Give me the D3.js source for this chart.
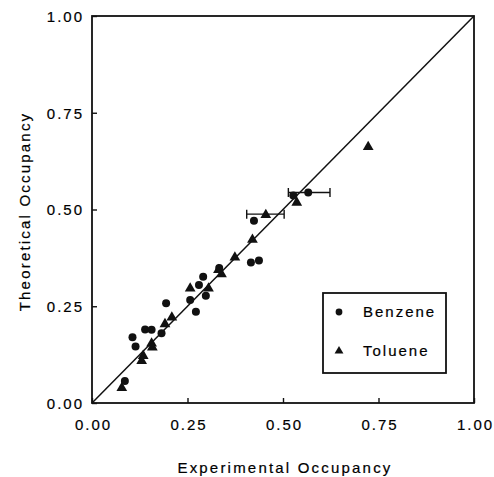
<!DOCTYPE html>
<html>
<head>
<meta charset="utf-8" />
<style>
  html, body {
    margin: 0;
    padding: 0;
    background: #fff;
  }
  svg text {
    font-family: "Liberation Sans", Arial, sans-serif;
    fill: #000;
    stroke: #000;
    stroke-width: 0.2px;
  }
  .tick-label {
    font-size: 15px;
    letter-spacing: 2px;
  }
  .axis-title {
    font-size: 15px;
    letter-spacing: 2.2px;
  }
  .frame {
    fill: none;
    stroke: #111;
    stroke-width: 1.8px;
  }
  .diag {
    stroke: #111;
    stroke-width: 1.5px;
  }
  .errbar {
    stroke: #111;
    stroke-width: 1.4px;
  }
</style>
</head>
<body>
<div id="vis"></div>
<script src="https://d3js.org/d3.v7.min.js"></script>
<script>
  // data
  var benzeneX = [0.086, 0.106, 0.114, 0.139, 0.156, 0.182, 0.194, 0.257, 0.272, 0.280, 0.291, 0.298, 0.333, 0.416, 0.437, 0.424, 0.527, 0.566];
  var benzeneY = [0.057, 0.170, 0.146, 0.190, 0.189, 0.180, 0.258, 0.266, 0.236, 0.305, 0.326, 0.277, 0.349, 0.363, 0.368, 0.471, 0.536, 0.544];

  var tolueneX = [0.078, 0.130, 0.134, 0.156, 0.158, 0.191, 0.209, 0.257, 0.305, 0.331, 0.339, 0.374, 0.420, 0.455, 0.536, 0.723];
  var tolueneY = [0.041, 0.111, 0.124, 0.156, 0.146, 0.206, 0.223, 0.298, 0.298, 0.346, 0.335, 0.378, 0.424, 0.488, 0.520, 0.664];

  // horizontal error bars: [x, y, xLow, xHigh]
  var errorBars = [
    [0.566, 0.544, 0.514, 0.623],
    [0.455, 0.488, 0.405, 0.503]
  ];

  var ticks = [0, 0.25, 0.5, 0.75, 1];
  var seriesNames = ["Benzene", "Toluene"];

  (function() {
    var W = 494, H = 477;
    var mLeft = 92, mRight = 474, mTop = 16, mBottom = 403;

    var svg = d3.select("#vis").append("svg")
      .attr("width", W).attr("height", H);

    var x = d3.scaleLinear().domain([0, 1]).range([mLeft, mRight]);
    var y = d3.scaleLinear().domain([0, 1]).range([mBottom, mTop]);

    // frame
    svg.append("rect").attr("class", "frame")
      .attr("x", mLeft).attr("y", mTop)
      .attr("width", mRight - mLeft).attr("height", mBottom - mTop);

    // axes with inward ticks
    var fmt = d3.format(".2f");
    var xAxis = svg.append("g")
      .attr("transform", "translate(0," + mBottom + ")")
      .call(d3.axisBottom(x).tickValues(ticks).tickSizeInner(-5).tickSizeOuter(0).tickFormat(fmt));
    var yAxis = svg.append("g")
      .attr("transform", "translate(" + mLeft + ",0)")
      .call(d3.axisLeft(y).tickValues(ticks).tickSizeInner(-5).tickSizeOuter(0).tickFormat(fmt));

    [xAxis, yAxis].forEach(function(g) {
      g.select(".domain").remove();
      g.selectAll(".tick line").attr("stroke", "#111").attr("stroke-width", 1.4);
      g.selectAll(".tick text")
        .attr("class", "tick-label")
        .attr("fill", null);
      g.attr("font-family", null).attr("font-size", null);
    });
    xAxis.selectAll(".tick text").attr("y", 16).attr("dy", "0.71em").attr("dx", 1);
    yAxis.selectAll(".tick text").attr("x", -8).attr("dy", "0.35em");

    // y = x line
    svg.append("line").attr("class", "diag")
      .attr("x1", x(0)).attr("y1", y(0))
      .attr("x2", x(1)).attr("y2", y(1));

    // error bars
    var eb = svg.append("g").selectAll("g").data(errorBars).enter().append("g");
    eb.append("line").attr("class", "errbar")
      .attr("x1", function(d) { return x(d[2]); }).attr("x2", function(d) { return x(d[3]); })
      .attr("y1", function(d) { return y(d[1]); }).attr("y2", function(d) { return y(d[1]); });
    eb.append("line").attr("class", "errbar")
      .attr("x1", function(d) { return x(d[2]); }).attr("x2", function(d) { return x(d[2]); })
      .attr("y1", function(d) { return y(d[1]) - 4.5; }).attr("y2", function(d) { return y(d[1]) + 4.5; });
    eb.append("line").attr("class", "errbar")
      .attr("x1", function(d) { return x(d[3]); }).attr("x2", function(d) { return x(d[3]); })
      .attr("y1", function(d) { return y(d[1]) - 4.5; }).attr("y2", function(d) { return y(d[1]) + 4.5; });

    // points
    var tri = d3.symbol().type(d3.symbolTriangle).size(50);

    svg.append("g").selectAll("path")
      .data(d3.zip(tolueneX, tolueneY)).enter().append("path")
      .attr("d", tri)
      .attr("fill", "#111")
      .attr("transform", function(d) { return "translate(" + x(d[0]) + "," + (y(d[1]) + 0.8) + ")"; });

    svg.append("g").selectAll("circle")
      .data(d3.zip(benzeneX, benzeneY)).enter().append("circle")
      .attr("cx", function(d) { return x(d[0]); })
      .attr("cy", function(d) { return y(d[1]); })
      .attr("r", 4)
      .attr("fill", "#111");

    // legend
    var lg = svg.append("g");
    lg.append("rect").attr("class", "frame")
      .attr("x", 323).attr("y", 293).attr("width", 123).attr("height", 80)
      .attr("stroke-width", 1.5);
    var items = lg.selectAll("g.item").data(seriesNames).enter().append("g")
      .attr("transform", function(d, i) { return "translate(339," + (312 + i * 39) + ")"; });
    items.each(function(d, i) {
      var g = d3.select(this);
      if (i === 0) g.append("circle").attr("r", 3.4).attr("fill", "#111");
      else g.append("path").attr("d", d3.symbol().type(d3.symbolTriangle).size(34)).attr("fill", "#111");
      g.append("text").attr("class", "tick-label")
        .attr("x", 24).attr("dy", "0.35em").text(d);
    });

    // axis titles
    svg.append("text").attr("class", "axis-title")
      .attr("x", (mLeft + mRight) / 2 + 2).attr("y", 473)
      .attr("text-anchor", "middle")
      .text("Experimental Occupancy");

    svg.append("text").attr("class", "axis-title")
      .attr("transform", "translate(30," + ((mTop + mBottom) / 2 + 2) + ") rotate(-90)")
      .attr("text-anchor", "middle")
      .text("Theoretical Occupancy");
  })();
</script>
</body>
</html>
